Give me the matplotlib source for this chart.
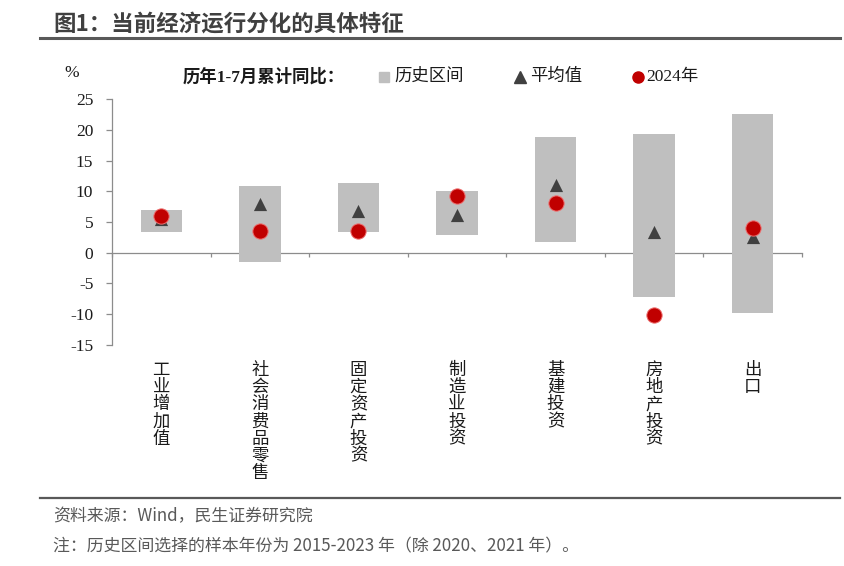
import numpy as np
import matplotlib
matplotlib.use("Agg")
import matplotlib.pyplot as plt
from matplotlib.lines import Line2D

# ---- data ----
categories = ['工业增加值', '社会消费品零售', '固定资产投资', '制造业投资', '基建投资', '房地产投资', '出口']
hist_low = [3.4, -1.6, 3.3, 2.9, 1.7, -7.2, -9.8]
hist_high = [7.0, 10.8, 11.4, 10.1, 18.9, 19.3, 22.6]
avg_vals = [5.5, 8.0, 6.8, 6.2, 11.1, 3.3, 2.6]
y2024_vals = [5.9, 3.5, 3.6, 9.3, 8.1, -10.2, 4.0]
yticks = [-15, -10, -5, 0, 5, 10, 15, 20, 25]

title = '图1：当前经济运行分化的具体特征'
legend_title = '历年1-7月累计同比：'
legend_labels = ['历史区间', '平均值', '2024年']
source = '资料来源：Wind，民生证券研究院'
note = '注：历史区间选择的样本年份为 2015-2023 年（除 2020、2021 年）。'

W, H = 844, 566
SERIF = ['Liberation Serif', 'Noto Sans CJK SC']
SANS = ['Noto Sans CJK SC', 'DejaVu Sans']

fig = plt.figure(figsize=(W / 100, H / 100), dpi=100)

def fx(px):
    return px / W

def fy(py):
    return 1 - py / H

ax_l, ax_r, ax_t, ax_b = 112, 802, 99.3, 344.7
ax = fig.add_axes([fx(ax_l), fy(ax_b), fx(ax_r - ax_l), (ax_b - ax_t) / H])

x = np.arange(len(categories))
low = np.array(hist_low)
high = np.array(hist_high)

ax.bar(x, high - low, bottom=low, width=0.42, color='#BFBFBF', zorder=3)
ax.scatter(x, avg_vals, marker='^', s=9.5 ** 2, color='#404040', zorder=4, linewidths=0)
ax.scatter(x, y2024_vals, marker='o', s=11 ** 2, color='#C00000',
           edgecolors='#EE7070', linewidths=0.7, zorder=5)

ax.set_xlim(-0.5, len(categories) - 0.5)
ax.set_ylim(-15, 25)
ax.set_yticks(yticks)
ax.set_yticklabels([str(v) for v in yticks], family=SERIF, fontsize=12.5, color='#1a1a1a')
ax.set_xticks(np.arange(-0.5, len(categories), 1))
ax.set_xticklabels([])

for s in ['top', 'right']:
    ax.spines[s].set_visible(False)
ax.spines['left'].set_color('#8C8C8C')
ax.spines['bottom'].set_color('#8C8C8C')
ax.spines['left'].set_linewidth(0.9)
ax.spines['bottom'].set_linewidth(0.9)
ax.spines['bottom'].set_position(('data', 0))
ax.tick_params(axis='y', direction='out', length=4.5, width=0.9, color='#8C8C8C', pad=9)
ax.tick_params(axis='x', direction='out', length=3, width=0.9, color='#8C8C8C')

# vertical category labels
for i, name in enumerate(categories):
    for k, ch in enumerate(name):
        ax.annotate(ch, xy=(i, 0), xycoords=('data', 'axes fraction'),
                    xytext=(0, -18 - k * 12.4), textcoords='offset points',
                    ha='center', va='center', fontsize=12.5, family=SANS, color='#1a1a1a')

# title and rules
fig.text(fx(53), fy(25), title, fontsize=16.2, fontweight='bold', family=SANS,
         color='#404040', ha='left', va='center')
fig.add_artist(Line2D([fx(40), fx(840)], [fy(38.3), fy(38.3)], color='#595959', lw=2.2))
fig.add_artist(Line2D([fx(40), fx(840)], [fy(498), fy(498)], color='#595959', lw=1.6))

# unit
fig.text(fx(72), fy(73), '%', fontsize=12.5, family=SERIF, ha='center', va='center', color='#1a1a1a')

# legend (manual)
ly = fy(77)
fig.text(fx(183), ly, legend_title, fontsize=12.5, fontweight='bold', family=SERIF,
         ha='left', va='center', color='#1a1a1a')
fig.add_artist(Line2D([fx(384)], [ly], marker='s', ms=7.5, color='#BFBFBF', lw=0))
fig.text(fx(394), ly, legend_labels[0], fontsize=12.5, family=SERIF, ha='left', va='center', color='#1a1a1a')
fig.add_artist(Line2D([fx(520)], [ly], marker='^', ms=8, color='#404040', lw=0))
fig.text(fx(530), ly, legend_labels[1], fontsize=12.5, family=SERIF, ha='left', va='center', color='#1a1a1a')
fig.add_artist(Line2D([fx(638)], [ly], marker='o', ms=8, color='#C00000', lw=0))
fig.text(fx(646), ly, legend_labels[2], fontsize=12.5, family=SERIF, ha='left', va='center', color='#1a1a1a')

# footer
fig.text(fx(53), fy(516), source, fontsize=12.2, family=SANS, color='#595959', ha='left', va='center')
fig.text(fx(53), fy(546), note, fontsize=12.2, family=SANS, color='#595959', ha='left', va='center')

fig.savefig('out.png', dpi=100)
